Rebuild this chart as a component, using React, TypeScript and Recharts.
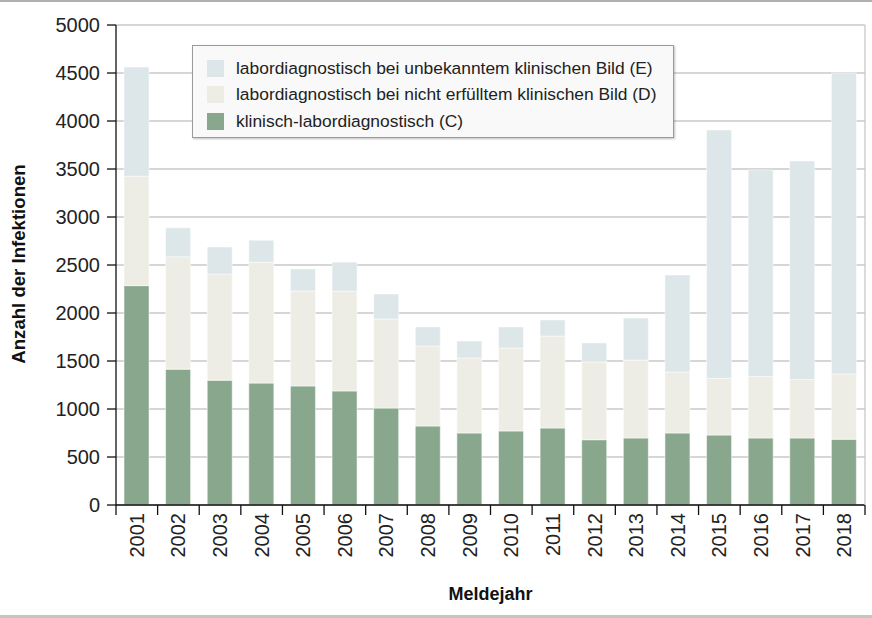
import React from 'react';
import { BarChart, Bar, XAxis, YAxis, CartesianGrid, Legend } from 'recharts';

const years = ['2001', '2002', '2003', '2004', '2005', '2006', '2007', '2008', '2009', '2010', '2011', '2012', '2013', '2014', '2015', '2016', '2017', '2018'];
// klinisch-labordiagnostisch (C)
const klinischC = [2285, 1415, 1300, 1270, 1240, 1188, 1010, 823, 750, 771, 802, 680, 698, 750, 729, 698, 698, 685];
// labordiagnostisch bei nicht erfülltem klinischen Bild (D)
const nichtErfuelltD = [1140, 1170, 1105, 1260, 990, 1040, 928, 833, 781, 864, 958, 810, 812, 635, 590, 640, 610, 680];
// labordiagnostisch bei unbekanntem klinischen Bild (E)
const unbekanntE = [1137, 302, 282, 229, 229, 302, 260, 198, 177, 219, 167, 198, 438, 1011, 2587, 2152, 2275, 3135];
const yTicks = [0, 500, 1000, 1500, 2000, 2500, 3000, 3500, 4000, 4500, 5000];

const data = years.map((year, i) => ({
    year,
    C: klinischC[i],
    D: nichtErfuelltD[i],
    E: unbekanntE[i],
}));

const FONT = '"Liberation Sans", Arial, sans-serif';
const PLOT_LEFT = 116;
const PLOT_RIGHT = 865;
const BAND = (PLOT_RIGHT - PLOT_LEFT) / years.length;

const YearTick = (props: any) => {
    const { x, y, payload, index } = props;
    const left = x - BAND / 2;
    return (
        <g>
            <line x1={left} y1={y} x2={left} y2={y + 10} stroke="#111" strokeWidth={1.3} />
            {index === years.length - 1 && (
                <line x1={x + BAND / 2} y1={y} x2={x + BAND / 2} y2={y + 10} stroke="#111" strokeWidth={1.3} />
            )}
            <text
                x={x + 7}
                y={y + 8}
                transform={`rotate(-90, ${x + 7}, ${y + 8})`}
                textAnchor="end"
                fontFamily={FONT}
                fontSize={20}
                fill="#222"
            >
                {payload.value}
            </text>
        </g>
    );
};

const renderLegend = (props: any) => {
    const items = [...(props.payload || [])].reverse();
    return (
        <div
            style={{
                width: '100%',
                height: '100%',
                boxSizing: 'border-box',
                border: '1px solid #9a9a9a',
                background: '#f9f9f9',
                boxShadow: '1px 1px 2px rgba(0,0,0,0.25)',
                paddingTop: 9,
            }}
        >
            {items.map((item: any) => (
                <div key={item.value} style={{ display: 'flex', alignItems: 'center', height: 26.5 }}>
                    <span style={{ width: 17, height: 17, background: item.color, marginLeft: 14, marginRight: 12 }} />
                    <span style={{ fontFamily: FONT, fontSize: 17.4, color: '#222', whiteSpace: 'nowrap' }}>{item.value}</span>
                </div>
            ))}
        </div>
    );
};

export default function App() {
    return (
        <div style={{ position: 'absolute', left: 0, top: 0, width: 872, height: 618, background: '#fff' }}>
            <div style={{ position: 'absolute', left: 0, top: 0, width: 872, height: 2, background: '#b0b0b0' }} />
            <div style={{ position: 'absolute', left: 0, top: 615, width: 872, height: 3, background: '#c6c6be' }} />
            <BarChart width={872} height={618} data={data} margin={{ top: 25, right: 0, bottom: 0, left: 0 }}>
                <CartesianGrid vertical={false} stroke="#c8c8c8" strokeWidth={1.3} />
                <XAxis
                    dataKey="year"
                    height={113}
                    axisLine={{ stroke: '#111', strokeWidth: 1.3 }}
                    tickLine={false}
                    tickSize={0}
                    tickMargin={0}
                    interval={0}
                    tick={<YearTick />}
                    label={{
                        value: 'Meldejahr',
                        position: 'insideBottom',
                        offset: 18,
                        style: { fontFamily: FONT, fontSize: 18, fontWeight: 'bold', fill: '#111' },
                    }}
                />
                <YAxis
                    width={116}
                    domain={[0, 5000]}
                    ticks={yTicks}
                    interval={0}
                    axisLine={{ stroke: '#111', strokeWidth: 1.3 }}
                    tickLine={{ stroke: '#111', strokeWidth: 1.3 }}
                    tickSize={9}
                    tickMargin={7}
                    tick={{ fill: '#222', fontSize: 20, fontFamily: FONT }}
                    label={{
                        content: () => (
                            <text
                                x={25}
                                y={264}
                                transform="rotate(-90, 25, 264)"
                                textAnchor="middle"
                                fontFamily={FONT}
                                fontSize={18.6}
                                fontWeight="bold"
                                fill="#111"
                            >
                                Anzahl der Infektionen
                            </text>
                        ),
                    }}
                />
                <YAxis
                    yAxisId="frame"
                    orientation="right"
                    width={7}
                    tick={false}
                    tickLine={false}
                    axisLine={{ stroke: '#c8c8c8', strokeWidth: 1.3 }}
                />
                <Legend
                    layout="horizontal"
                    align="center"
                    verticalAlign="middle"
                    content={renderLegend}
                    wrapperStyle={{ position: 'absolute', left: 192, top: 45, width: 482, height: 93 }}
                />
                <Bar dataKey="C" name="klinisch-labordiagnostisch (C)" stackId="a" fill="#89a78d" stroke="#ffffff" strokeOpacity={0.5} barSize={25} isAnimationActive={false} />
                <Bar dataKey="D" name="labordiagnostisch bei nicht erfülltem klinischen Bild (D)" stackId="a" fill="#eeede5" stroke="#ffffff" strokeOpacity={0.5} barSize={25} isAnimationActive={false} />
                <Bar dataKey="E" name="labordiagnostisch bei unbekanntem klinischen Bild (E)" stackId="a" fill="#dde6e8" stroke="#ffffff" strokeOpacity={0.5} barSize={25} isAnimationActive={false} />
            </BarChart>
        </div>
    );
}
